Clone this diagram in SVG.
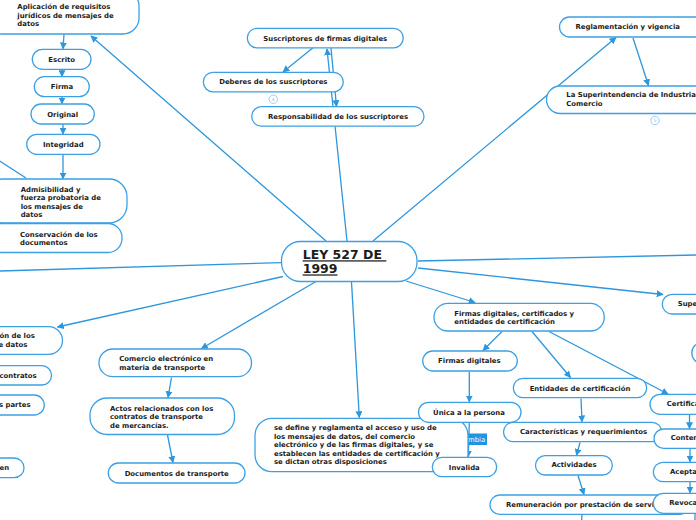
<svg xmlns="http://www.w3.org/2000/svg" width="696" height="520" viewBox="0 0 696 520">
<style>
.n rect{fill:#fff;stroke:#3da0e4;stroke-width:1.3}
.t{font-family:"DejaVu Sans",Verdana,sans-serif;font-weight:bold;font-size:6.9px;fill:#1c1c1c}
.m{text-anchor:middle}
.c line{stroke:#2d96dd;stroke-width:1.3;fill:none}
.a{marker-end:url(#ah)}
.b circle{fill:#fff;stroke:#8ccaf2;stroke-width:0.9}
.b text{font-family:"DejaVu Sans",sans-serif;font-size:4.5px;fill:#7fbfe8;text-anchor:middle}
</style>
<defs>
<marker id="ah" viewBox="0 0 10 10" refX="9" refY="5" markerWidth="7" markerHeight="7" markerUnits="userSpaceOnUse" orient="auto"><path d="M0,0 L10,5 L0,10 z" fill="#2d96dd"/></marker>
</defs>
<rect width="696" height="520" fill="#fff"/>
<g id="connectors" class="c">
<line class="a" x1="326" y1="241" x2="91" y2="36"/>
<line class="a" x1="64" y1="34.5" x2="63" y2="48.8"/>
<line class="a" x1="62" y1="69.5" x2="62" y2="76.5"/>
<line class="a" x1="62" y1="97" x2="62" y2="103.8"/>
<line class="a" x1="63" y1="124.5" x2="63" y2="134"/>
<line class="a" x1="63" y1="154.5" x2="63" y2="178.8"/>
<line x1="-2" y1="160" x2="26" y2="178"/>
<line x1="-2" y1="221" x2="5" y2="224.3"/>
<line class="a" x1="347" y1="241" x2="327" y2="49"/>
<line class="a" x1="331" y1="48" x2="336.5" y2="106.5"/>
<line class="a" x1="313" y1="47.8" x2="283" y2="72"/>
<line class="a" x1="373" y1="241" x2="616" y2="37.5"/>
<line class="a" x1="633" y1="38" x2="648.5" y2="85.5"/>
<line x1="0" y1="271" x2="282" y2="262.6"/>
<line x1="418" y1="261" x2="696" y2="255"/>
<line class="a" x1="418" y1="268" x2="663" y2="294.5"/>
<line class="a" x1="406" y1="281" x2="475" y2="302.5"/>
<line class="a" x1="351.5" y1="282" x2="359.3" y2="417.5"/>
<line class="a" x1="316" y1="281.5" x2="201.5" y2="348.5"/>
<line class="a" x1="283" y1="276.5" x2="57.5" y2="327"/>
<line class="a" x1="171.5" y1="377.5" x2="168" y2="397.5"/>
<line class="a" x1="167.5" y1="435" x2="173" y2="462.5"/>
<line class="a" x1="502" y1="331.5" x2="483" y2="350.5"/>
<line class="a" x1="532" y1="331.5" x2="570.5" y2="377.5"/>
<line class="a" x1="549" y1="331.5" x2="668" y2="394"/>
<line class="a" x1="469.3" y1="371.5" x2="469.3" y2="401.8"/>
<line class="a" x1="469.3" y1="422.5" x2="468.3" y2="456.8"/>
<line class="a" x1="581" y1="398.5" x2="582" y2="421.8"/>
<line class="a" x1="580" y1="442.5" x2="576.5" y2="455.3"/>
<line class="a" x1="578" y1="475.5" x2="584" y2="494.5"/>
<line x1="582" y1="515" x2="581.5" y2="522"/>
<line class="a" x1="689.5" y1="414.8" x2="689.5" y2="428.5"/>
<line class="a" x1="690" y1="448.8" x2="690" y2="461.8"/>
<line class="a" x1="690" y1="482" x2="690" y2="492.8"/>
<line x1="695" y1="513.5" x2="695" y2="522"/>
<g id="label-cambia"><rect x="456" y="433.5" width="31" height="11.5" fill="#1f95e2"/><text x="459" y="442.3" style="font-family:'DejaVu Sans',Verdana,sans-serif;font-size:6.9px;fill:#fff">Cambia</text></g>
</g>
<g id="n-aplicacion" class="n"><rect x="-15" y="-10" width="154" height="44" rx="16"/><text class="t" x="17.3" y="9"><tspan x="17.3">Aplicación de requisitos</tspan><tspan x="17.3" y="17.5">jurídicos de mensajes de</tspan><tspan x="17.3" y="26">datos</tspan></text></g>
<g id="n-escrito" class="n"><rect x="32.3" y="49.3" width="58.7" height="20" rx="10"/><text class="t m" x="61.7" y="62">Escrito</text></g>
<g id="n-firma" class="n"><rect x="34.3" y="76.7" width="55" height="20" rx="10"/><text class="t m" x="62" y="89">Firma</text></g>
<g id="n-original" class="n"><rect x="31" y="104" width="63.3" height="20" rx="10"/><text class="t m" x="62.7" y="116.7">Original</text></g>
<g id="n-integridad" class="n"><rect x="26.7" y="134.3" width="73.3" height="20" rx="10"/><text class="t m" x="63.3" y="147">Integridad</text></g>
<g id="n-admisibilidad" class="n"><rect x="-15" y="179" width="142" height="44" rx="18"/><text class="t" x="20.7" y="192"><tspan x="20.7">Admisibilidad y</tspan><tspan x="20.7" y="200.3">fuerza probatoria de</tspan><tspan x="20.7" y="208.6">los mensajes de</tspan><tspan x="20.7" y="216.9">datos</tspan></text></g>
<g id="n-conservacion" class="n"><rect x="-15" y="223.5" width="137" height="29" rx="14"/><text class="t" x="20" y="236.5"><tspan x="20">Conservación de los</tspan><tspan x="20" y="245">documentos</tspan></text></g>
<g id="n-suscriptores" class="n"><rect x="247.3" y="28.3" width="156" height="19.5" rx="9.7"/><text class="t m" x="325.3" y="40.7">Suscriptores de firmas digitales</text></g>
<g id="n-deberes" class="n"><rect x="203.3" y="72.3" width="140" height="19.5" rx="9.7"/><text class="t m" x="273.3" y="84.3">Deberes de los suscriptores</text><g class="b"><circle cx="273.3" cy="99.3" r="4.2"/><text x="273.3" y="100.9">4</text></g></g>
<g id="n-responsabilidad" class="n"><rect x="251.7" y="106.7" width="172.3" height="19.5" rx="9.7"/><text class="t m" x="338" y="118.7">Responsabilidad de los suscriptores</text></g>
<g id="n-reglamentacion" class="n"><rect x="559.5" y="17" width="150" height="20" rx="10"/><text class="t" x="575.5" y="29.3">Reglamentación y vigencia</text></g>
<g id="n-superintendencia" class="n"><rect x="546.5" y="86" width="170" height="27.5" rx="13.7"/><text class="t" x="566.3" y="96.7"><tspan x="566.3">La Superintendencia de Industria y</tspan><tspan x="566.3" y="105.7">Comercio</tspan></text><g class="b"><circle cx="655" cy="120.5" r="4.2"/><text x="655" y="122.1">5</text></g></g>
<g id="n-ley" class="n"><rect x="281.5" y="241.5" width="135.5" height="40" rx="19"/><text class="t" x="302.7" y="259.3" style="font-size:12.5px;text-decoration:underline"><tspan x="302.7">LEY 527 DE </tspan><tspan x="302.7" y="273.4">1999</tspan></text></g>
<g id="n-comunicacion" class="n"><rect x="-15" y="326.7" width="77.5" height="27.6" rx="13.8"/><text class="t" x="-0.5" y="337.7"><tspan x="-0.5">ón de los</tspan><tspan x="-1.5" y="346.8">e datos</tspan></text></g>
<g id="n-contratos" class="n"><rect x="-15" y="365.7" width="66.5" height="19.3" rx="9.6"/><text class="t" x="-0.5" y="377.7">contratos</text></g>
<g id="n-partes" class="n"><rect x="-15" y="395" width="59.3" height="20" rx="10"/><text class="t" x="-1" y="407.3">s partes</text></g>
<g id="n-en" class="n"><rect x="-15" y="458" width="39" height="19.7" rx="9.8"/><text class="t" x="-0.5" y="470.3">en</text></g>
<g id="n-comercio" class="n"><rect x="99" y="349" width="152.5" height="27.7" rx="13.8"/><text class="t" x="119.3" y="361"><tspan x="119.3">Comercio electrónico en</tspan><tspan x="119.3" y="369.5">materia de transporte</tspan></text></g>
<g id="n-actos" class="n"><rect x="90" y="398" width="144.5" height="36.5" rx="17"/><text class="t" x="110" y="410.5"><tspan x="110">Actos relacionados con los</tspan><tspan x="110" y="419">contratos de transporte</tspan><tspan x="110" y="427.5">de mercancías.</tspan></text></g>
<g id="n-documentos" class="n"><rect x="108.3" y="463" width="136.7" height="20" rx="10"/><text class="t m" x="176.7" y="475.7">Documentos de transporte</text></g>
<g id="n-sedefine" class="n"><rect x="255" y="418.3" width="213" height="53.4" rx="17"/><text class="t" x="274" y="430"><tspan x="274">se define y reglamenta el acceso y uso de</tspan><tspan x="274" y="438.5">los mensajes de datos, del comercio</tspan><tspan x="274" y="447">electrónico y de las firmas digitales, y se</tspan><tspan x="274" y="455.5">establecen las entidades de certificación y</tspan><tspan x="274" y="464">se dictan otras disposiciones</tspan></text></g>
<g id="n-firmascert" class="n"><rect x="434" y="303.3" width="170.3" height="27.7" rx="13.8"/><text class="t" x="454.3" y="316"><tspan x="454.3">Firmas digitales, certificados y</tspan><tspan x="454.3" y="324">entidades de certificación</tspan></text></g>
<g id="n-firmasdig" class="n"><rect x="422.7" y="351" width="94.6" height="20" rx="10"/><text class="t m" x="469.3" y="363.3">Firmas digitales</text></g>
<g id="n-unica" class="n"><rect x="418.5" y="402.3" width="102.5" height="20" rx="10"/><text class="t m" x="469" y="415">Única a la persona</text></g>
<g id="n-invalida" class="n"><rect x="432.3" y="457.3" width="64.4" height="19.4" rx="9.7"/><text class="t m" x="464.3" y="469.8">Invalida</text></g>
<g id="n-entidades" class="n"><rect x="513.3" y="378.3" width="133.4" height="19.4" rx="9.7"/><text class="t m" x="580" y="390.6">Entidades de certificación</text></g>
<g id="n-caracteristicas" class="n"><rect x="503.5" y="422.3" width="158.2" height="19.4" rx="9.7"/><text class="t m" x="583.5" y="434.4">Características y requerimientos</text></g>
<g id="n-actividades" class="n"><rect x="535.5" y="455.7" width="76.8" height="19.3" rx="9.6"/><text class="t m" x="574" y="467.4">Actividades</text></g>
<g id="n-remuneracion" class="n"><rect x="490" y="495" width="200" height="19.4" rx="9.7"/><text class="t" x="506" y="507.3">Remuneración por prestación de servicios</text></g>
<g id="n-supe" class="n"><rect x="662.3" y="294.3" width="80" height="19.7" rx="9.8"/><text class="t" x="677.7" y="306.2">Supe</text></g>
<g id="n-right-empty" class="n"><rect x="691.8" y="342.5" width="60" height="21" rx="10.5"/></g>
<g id="n-certifica" class="n"><rect x="650" y="394.3" width="80" height="20" rx="10"/><text class="t" x="666.7" y="406.2">Certifica</text></g>
<g id="n-conten" class="n"><rect x="654" y="429" width="80" height="19.3" rx="9.6"/><text class="t" x="670.7" y="440.3">Conten</text></g>
<g id="n-acepta" class="n"><rect x="653.3" y="462.3" width="80" height="19.4" rx="9.7"/><text class="t" x="670" y="473.5">Acepta</text></g>
<g id="n-revoca" class="n"><rect x="653.3" y="493.3" width="80" height="20" rx="10"/><text class="t" x="669.3" y="504.5">Revoca</text></g>
</svg>
